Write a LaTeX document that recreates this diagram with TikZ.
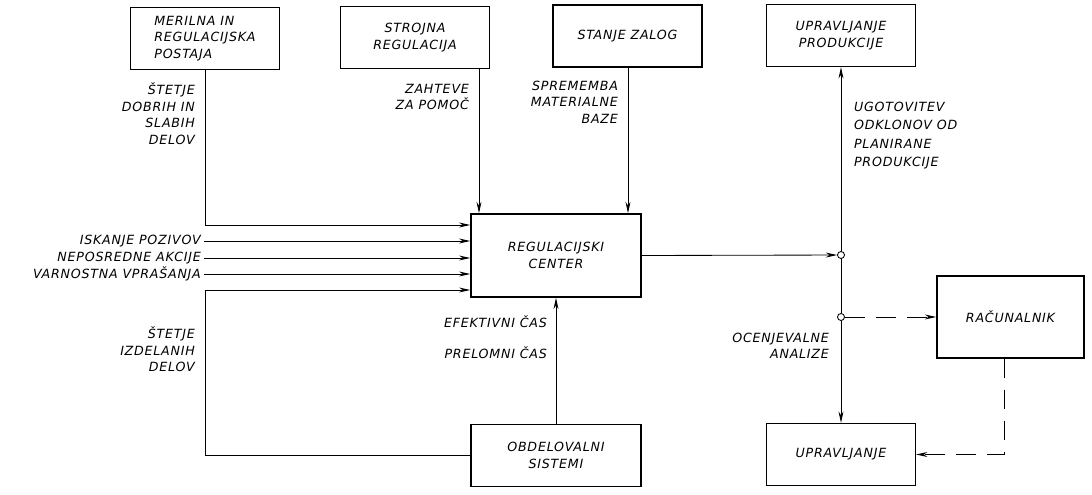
\documentclass[tikz,border=0pt]{standalone}
\usepackage{fontspec}
\newfontfamily\lblfont[LetterSpace=6]{DejaVu Sans}
\newcommand\lbltxt{\lblfont\itshape\fontsize{9pt}{11.7pt}\selectfont}
\usetikzlibrary{arrows.meta,positioning}
\tikzset{%
	box/.style   = {draw, line width=1pt, rectangle, minimum width=3.72cm, minimum height=1.55cm, align=center, font=\lbltxt},
	lbl/.style   = {inner sep=2pt, font=\lbltxt},
	arrow/.style = {semithick, -{Stealth[length=8pt,width=3.5pt]}},
	dashes/.style= {dash pattern=on 14pt off 8pt},
	jct/.style   = {draw, semithick, circle, fill=white, inner sep=0pt, minimum size=5pt},
}

\begin{document}
\begin{tikzpicture}[x=0.025cm, y=-0.025cm]
	\useasboundingbox (0,0) rectangle (1092,494);
	% boxes
	\node[box, align=left] (merilna) at (205,38.5) {MERILNA IN\\REGULACIJSKA\\POSTAJA};
	\node[box] (strojna) at (415,37.5) {STROJNA\\REGULACIJA};
	\node[box] (stanje) at (627.5,36) {STANJE ZALOG};
	\node[box] (uprprod) at (841,35.5) {UPRAVLJANJE\\PRODUKCIJE};
	\node[box, minimum width=4.25cm, minimum height=2.08cm] (center) at (556,255.5) {REGULACIJSKI\\CENTER};
	\node[box, minimum width=4.25cm] (obdel) at (556,455.5) {OBDELOVALNI\\SISTEMI};
	\node[box, minimum width=3.68cm, minimum height=2.05cm] (racun) at (1010.5,317) {RAČUNALNIK};
	\node[box] (upr) at (841,454.5) {UPRAVLJANJE};
	\node[jct] (j1) at (841,255) {};
	\node[jct] (j2) at (841,317) {};
	\coordinate (in1) at (205,225);
	\coordinate (kot) at (205,290);
	\coordinate (sx) at (479,0);
	\coordinate (zx) at (628,0);
	\coordinate (rx) at (1004,0);
	% left inputs
	\draw[arrow] (merilna.south) -- (merilna.south |- in1) -- (center.west |- in1);
	\node[lbl, anchor=east] (iskanje) at (204,241) {ISKANJE POZIVOV};
	\node[lbl, anchor=east] (neposredne) at (204,258) {NEPOSREDNE AKCIJE};
	\node[lbl, anchor=east] (varnostna) at (204,274) {VARNOSTNA VPRAŠANJA};
	\draw[arrow] (iskanje.east) -- (center.west |- iskanje.east);
	\draw[arrow] (neposredne.east) -- (center.west |- neposredne.east);
	\draw[arrow] (varnostna.east) -- (center.west |- varnostna.east);
	\draw[arrow] (obdel.west) -| (kot) -- (center.west |- kot);
	% top inputs
	\draw[arrow] (strojna.south -| sx) -- (center.north -| sx);
	\draw[arrow] (stanje.south -| zx) -- (center.north -| zx);
	\draw[arrow] (obdel.north) -- (center.south);
	% right side
	\draw[arrow] (center.east) -- (j1);
	\draw[arrow] (j1) -- (uprprod.south);
	\draw (j1) -- (j2);
	\draw[arrow] (j2) -- (upr.north);
	\draw[arrow, dashes] (j2) -- (racun.west);
	\draw[arrow, dashes] (racun.south -| rx) |- (upr.east);
	% labels
	\node[lbl, align=right, anchor=north east] (stetjea) at (198,80) {ŠTETJE\\DOBRIH IN\\SLABIH\\DELOV};
	\node[lbl, align=right, anchor=north east] (zahteve) at (472,81) {ZAHTEVE\\ZA POMOČ};
	\node[lbl, align=right, anchor=north east] (sprememba) at (621,78) {SPREMEMBA\\MATERIALNE\\BAZE};
	\node[lbl, align=left, anchor=north west, font={\lblfont\itshape\fontsize{9pt}{13pt}\selectfont}] (ugotovitev) at (851,99) {UGOTOVITEV\\ODKLONOV OD\\PLANIRANE\\PRODUKCIJE};
	\node[lbl, align=right, anchor=north east] (stetjeb) at (198,324) {ŠTETJE\\IZDELANIH\\DELOV};
	\node[lbl, anchor=east] (efektivni) at (550,322) {EFEKTIVNI ČAS};
	\node[lbl, anchor=east] (prelomni) at (550,353) {PRELOMNI ČAS};
	\node[lbl, align=right, anchor=north east] (ocenjevalne) at (832,330) {OCENJEVALNE\\ANALIZE};
\end{tikzpicture}
\end{document}
